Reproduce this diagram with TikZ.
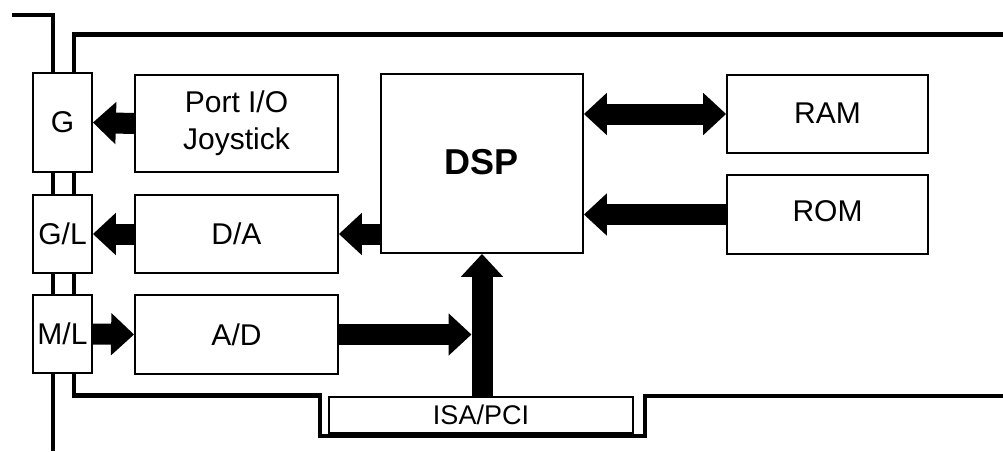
\documentclass[tikz,border=0pt]{standalone}
\usepackage{fontspec}
\setmainfont{Liberation Sans}
\usetikzlibrary{arrows.meta}
\begin{document}
\begin{tikzpicture}[x=1pt,y=-1pt,
  box/.style={draw,line width=1.8pt,fill=white,inner sep=0pt,align=center,font=\fontsize{30}{37}\selectfont},
  fat/.style={line width=21pt,-{Triangle[length=23pt,width=41pt]}},
  fatboth/.style={line width=21pt,{Triangle[length=23pt,width=41pt]}-{Triangle[length=23pt,width=41pt]}},
  wall/.style={line width=4.5pt}]
\useasboundingbox (0,0) rectangle (1003,451);
% bracket and board outline
\draw[wall] (12,15) -- (53,15) -- (53,451);
\draw[wall] (1003,34.5) -- (74,34.5) -- (74,395.5) -- (320,395.5) -- (320,436) -- (645,436) -- (645,396) -- (1003,396);
% connectors on the bracket
\node[box,minimum width=59pt,minimum height=99pt] (g) at (62.5,122.5) {G};
\node[box,minimum width=59pt,minimum height=78pt] (gl) at (62.5,234) {G/L};
\node[box,minimum width=59pt,minimum height=78pt] (ml) at (62.5,334) {M/L};
% function blocks
\node[box,minimum width=203pt,minimum height=97pt] (port) at (236.5,123.5) {Port I/O\\Joystick};
\node[box,minimum width=203pt,minimum height=78pt] (da) at (236.5,234) {D/A};
\node[box,minimum width=203pt,minimum height=79pt] (ad) at (236.5,334.5) {A/D};
\node[box,minimum width=202pt,minimum height=179pt,font=\bfseries\fontsize{36}{40}\selectfont] (dsp) at (482,163.5) {\raisebox{3pt}{DSP}};
\node[box,minimum width=201pt,minimum height=78pt] (ram) at (827.5,114) {\raisebox{2pt}{RAM}};
\node[box,minimum width=201pt,minimum height=79pt] (rom) at (827.5,214.5) {\raisebox{7pt}{ROM}};
\node[box,minimum width=304pt,minimum height=36pt,font=\fontsize{27}{30}\selectfont] (isa) at (481,415) {ISA/PCI};
% data paths
\draw[fat] (port.west) -- (g.east);
\draw[fat] (da.west) -- (gl.east);
\draw[fat] (ml.east) -- (ad.west);
\draw[fat] (da.east -| dsp.west) -- (da.east);
\draw[fatboth] (dsp.east |- ram.west) -- (ram.west);
\draw[fat] (rom.west) -- (rom.west -| dsp.east);
\draw[fat] (isa.north -| dsp.south) -- (dsp.south);
\draw[fat,shorten >=10.5pt] (ad.east) -- (ad.east -| dsp.south);
\end{tikzpicture}
\end{document}
